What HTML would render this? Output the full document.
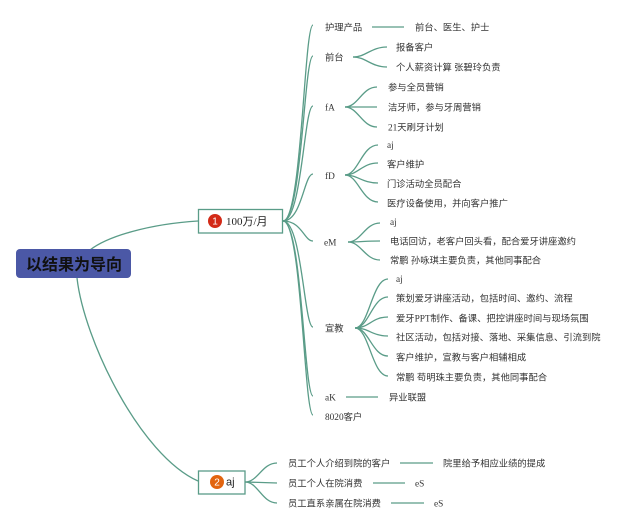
<!DOCTYPE html>
<html>
<head>
<meta charset="utf-8">
<style>
html,body{margin:0;padding:0;background:#fff;}
svg{display:block;}
text{font-family:"Liberation Serif","Noto Sans CJK SC",serif;font-size:9.3px;fill:#333;}
.b{font-family:"Liberation Sans","Noto Sans CJK SC",sans-serif;}
</style>
</head>
<body>
<svg width="640" height="529" viewBox="0 0 640 529" xmlns="http://www.w3.org/2000/svg">
<g fill="none" stroke="#5a9c88" stroke-width="1.3">
<!-- root connectors -->
<path d="M90,250 C108,236 150,224 198,221"/>
<path d="M77,278 C84,340 140,455 198,481"/>
<!-- node1 branches -->
<path d="M283,221 C302,221 304,25 313,25"/>
<path d="M283,221 C302,221 304,56 313,56"/>
<path d="M283,221 C302,221 304,106 313,106"/>
<path d="M283,221 C302,221 304,174 313,174"/>
<path d="M283,221 C302,221 304,241 313,241"/>
<path d="M283,221 C302,221 304,327 313,327"/>
<path d="M283,221 C302,221 304,396 313,396"/>
<path d="M283,221 C302,221 304,415 313,415"/>
<!-- 护理产品 line -->
<path d="M372,27 L404,27"/>
<!-- 前台 -->
<path d="M353,57 C366,57 371,47 387,47"/>
<path d="M353,57 C366,57 371,67 387,67"/>
<!-- fA -->
<path d="M345,107 C358,107 362,87 377,87"/>
<path d="M345,107 L377,107"/>
<path d="M345,107 C358,107 362,127 377,127"/>
<!-- fD -->
<path d="M345,175 C358,175 362,145 378,145"/>
<path d="M345,175 C358,175 362,163 378,163"/>
<path d="M345,175 C358,175 362,183 378,183"/>
<path d="M345,175 C358,175 362,202 378,202"/>
<!-- eM -->
<path d="M348,242 C361,242 365,223 380,223"/>
<path d="M348,242 C361,242 365,241 380,241"/>
<path d="M348,242 C361,242 365,260 380,260"/>
<!-- 宣教 -->
<path d="M355,328 C369,328 372,279 388,279"/>
<path d="M355,328 C369,328 372,297 388,297"/>
<path d="M355,328 C369,328 372,317 388,317"/>
<path d="M355,328 C369,328 372,336 388,336"/>
<path d="M355,328 C369,328 372,356 388,356"/>
<path d="M355,328 C369,328 372,376 388,376"/>
<!-- aK -->
<path d="M346,397 L378,397"/>
<!-- node2 -->
<path d="M245,482 C258,482 262,463 277,463"/>
<path d="M245,482 L277,483"/>
<path d="M245,482 C258,482 262,503 277,503"/>
<path d="M400,463 L433,463"/>
<path d="M373,483 L405,483"/>
<path d="M391,503 L424,503"/>
</g>

<!-- root -->
<rect x="16" y="249" width="115" height="29" rx="4" fill="#4b58a6"/>
<text x="74" y="270" text-anchor="middle" class="b" style="font-size:16px;font-weight:bold;fill:#111;">以结果为导向</text>

<!-- node 1 -->
<rect x="198.5" y="209.5" width="84" height="23.5" fill="#fff" stroke="#5a9c88" stroke-width="1.3"/>
<circle cx="215" cy="221" r="7" fill="#d32a17"/>
<text x="215" y="224.6" text-anchor="middle" class="b" style="font-size:10px;fill:#fff;">1</text>
<text x="226" y="225" style="font-size:11px;fill:#222;">100万/月</text>

<!-- node 2 -->
<rect x="198.5" y="471" width="46.5" height="23" fill="#fff" stroke="#5a9c88" stroke-width="1.3"/>
<circle cx="217" cy="482" r="7" fill="#e2640f"/>
<text x="217" y="485.6" text-anchor="middle" class="b" style="font-size:10px;fill:#fff;">2</text>
<text x="226" y="485.5" class="b" style="font-size:11px;fill:#222;">aj</text>

<!-- level 2 labels -->
<text x="325" y="30.5">护理产品</text>
<text x="415" y="30.5">前台、医生、护士</text>
<text x="325" y="60.5">前台</text>
<text x="396" y="50.5">报备客户</text>
<text x="396" y="70.5">个人薪资计算 张碧玲负责</text>

<text x="325" y="110.5">fA</text>
<text x="388" y="90.5">参与全员营销</text>
<text x="388" y="110.5">洁牙师，参与牙周营销</text>
<text x="388" y="130.5">21天刷牙计划</text>

<text x="325" y="179">fD</text>
<text x="387" y="148">aj</text>
<text x="387" y="167.5">客户维护</text>
<text x="387" y="187">门诊活动全员配合</text>
<text x="387" y="206.5">医疗设备使用，并向客户推广</text>

<text x="324" y="245.5">eM</text>
<text x="390" y="225">aj</text>
<text x="390" y="244.5">电话回访，老客户回头看，配合爱牙讲座邀约</text>
<text x="390" y="263.5">常鹏 孙咏琪主要负责，其他同事配合</text>

<text x="325" y="331.5">宣教</text>
<text x="396" y="282">aj</text>
<text x="396" y="301.5">策划爱牙讲座活动，包括时间、邀约、流程</text>
<text x="396" y="321.5">爱牙PPT制作、备课、把控讲座时间与现场氛围</text>
<text x="396" y="340.5">社区活动，包括对接、落地、采集信息、引流到院</text>
<text x="396" y="360.5">客户维护，宣教与客户相辅相成</text>
<text x="396" y="380.5">常鹏 苟明珠主要负责，其他同事配合</text>

<text x="325" y="400.5">aK</text>
<text x="389" y="400.5">异业联盟</text>
<text x="325" y="420">8020客户</text>

<!-- node2 children -->
<text x="288" y="466.5">员工个人介绍到院的客户</text>
<text x="443" y="466.5">院里给予相应业绩的提成</text>
<text x="288" y="486.5">员工个人在院消费</text>
<text x="415" y="486.5">eS</text>
<text x="288" y="506.5">员工直系亲属在院消费</text>
<text x="434" y="506.5">eS</text>
</svg>
</body>
</html>
